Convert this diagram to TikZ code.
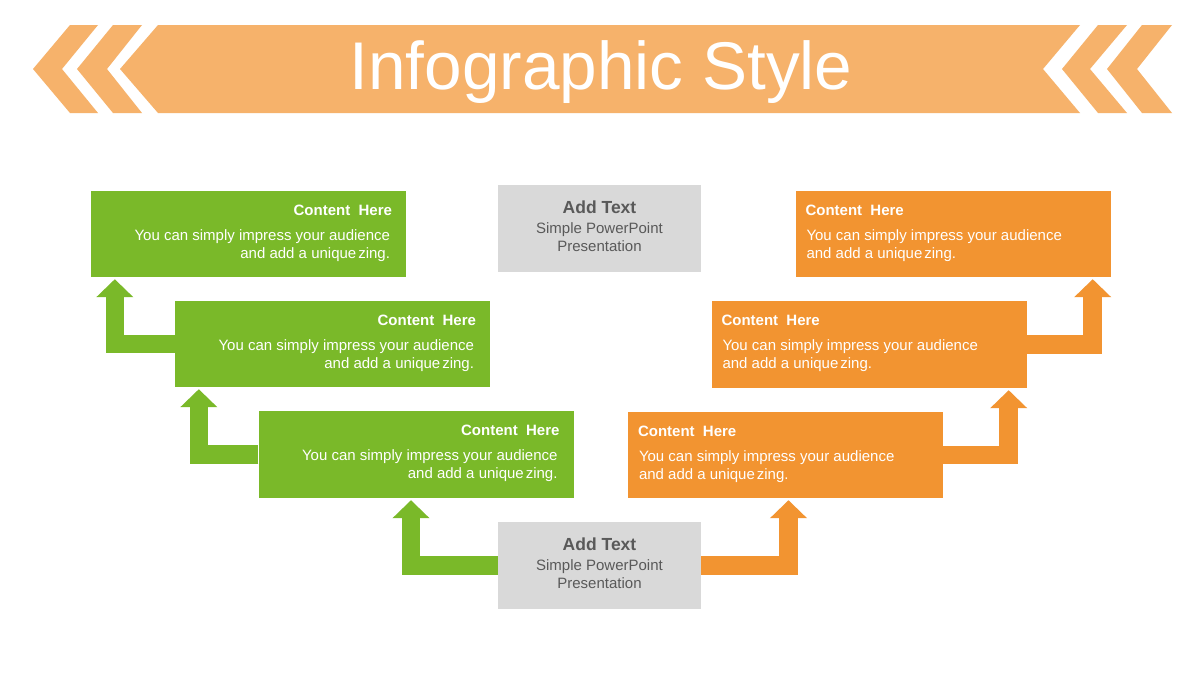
\documentclass[tikz,border=0pt]{standalone}
\usepackage{fontspec}
\setmainfont{Liberation Sans}
\usetikzlibrary{arrows.meta,calc}
\definecolor{grn}{HTML}{7AB929}
\definecolor{org}{HTML}{F29431}
\definecolor{hdr}{HTML}{F6B26B}
\definecolor{gry}{HTML}{D9D9D9}
\definecolor{gtxt}{HTML}{595959}
\tikzset{
  box/.style={inner sep=0pt, minimum width=315pt, minimum height=86pt},
  gbox/.style={box, fill=grn},
  obox/.style={box, fill=org},
  graybox/.style={inner sep=0pt, minimum width=203pt, minimum height=87pt, fill=gry},
  ttl/.style={inner sep=0pt, text=white, font=\fontsize{15}{18}\selectfont\bfseries},
  bdy/.style={inner sep=0pt, text=white, font=\fontsize{15}{18}\selectfont},
  garrow/.style={draw=grn, line width=18.5pt, line join=miter, -{Triangle[width=36pt,length=18pt]}},
  oarrow/.style={draw=org, line width=18.5pt, line join=miter, -{Triangle[width=36pt,length=18pt]}},
}
\begin{document}
\begin{tikzpicture}[x=1pt,y=-1pt]
\useasboundingbox (0,0) rectangle (1200,675);
\fill[white] (0,0) rectangle (1200,675);
% header banner
\fill[hdr] (70,25) -- (98,25) -- (62,69) -- (98,113) -- (70,113) -- (33,69) -- cycle;
\fill[hdr] (113,25) -- (142,25) -- (107,69) -- (142,113) -- (113,113) -- (77,69) -- cycle;
\fill[hdr] (158,25) -- (1080,25) -- (1043,69) -- (1080,113) -- (158,113) -- (120,69) -- cycle;
\fill[hdr] (1098,25) -- (1127,25) -- (1090,69) -- (1127,113) -- (1098,113) -- (1062,69) -- cycle;
\fill[hdr] (1142,25) -- (1172,25) -- (1137,69) -- (1172,113) -- (1142,113) -- (1107,69) -- cycle;
\node[anchor=base, inner sep=0pt, text=white, font=\fontsize{67.5}{70}\selectfont] (title) at (601,89.5) {Infographic Style};

% boxes
\node[gbox] (g1) at (248.5,234) {};
\node[gbox] (g2) at (332.5,344) {};
\node[gbox, minimum height=87pt] (g3) at (416,454.5) {};
\node[obox] (o1) at (953,234) {};
\node[obox, minimum height=87pt] (o2) at (869,344.5) {};
\node[obox] (o3) at (785.5,455) {};
\node[graybox] (a1) at (599.5,228.5) {};
\node[graybox] (a2) at (599.5,565.5) {};

% arrows
\draw[garrow] (g2.west) -| ($(g1.south west)+(24,2)$);
\draw[garrow] (g3.west) -| ($(g2.south west)+(24,2)$);
\draw[garrow] (a2.west) -| ($(g3.south)+(-5,2)$);
\draw[oarrow] (a2.east) -| ($(o3.south)+(3,2)$);
\draw[oarrow] (o3.east) -| ($(o2.south east)+(-18,2)$);
\draw[oarrow] (o2.east) -| ($(o1.south east)+(-18,2)$);

% green texts
\foreach \b in {g1,g2,g3}{
  \node[ttl, anchor=base east] (\b t) at ($(\b.north east)+(-14,24.5)$) {Content\ \ Here};
  \node[bdy, anchor=base east] (\b a) at ($(\b.north east)+(-16,50)$) {You can simply impress your audience};
  \node[bdy, anchor=base east] (\b b) at ($(\b.north east)+(-16,68)$) {and add a unique\kern2pt zing.};
}
% orange texts
\foreach \b in {o1,o2,o3}{
  \node[ttl, anchor=base west] (\b t) at ($(\b.north west)+(10,24.5)$) {Content\ \ Here};
  \node[bdy, anchor=base west] (\b a) at ($(\b.north west)+(11,50)$) {You can simply impress your audience};
  \node[bdy, anchor=base west] (\b b) at ($(\b.north west)+(11,68)$) {and add a unique\kern2pt zing.};
}
% gray texts
\foreach \b in {a1,a2}{
  \node[inner sep=0pt, anchor=base, text=gtxt, font=\fontsize{17.5}{20}\selectfont\bfseries] (\b t) at ($(\b.north)+(0,28.5)$) {Add Text};
  \node[inner sep=0pt, anchor=base, text=gtxt, font=\fontsize{15}{18}\selectfont] (\b a) at ($(\b.north)+(0,49)$) {Simple PowerPoint};
  \node[inner sep=0pt, anchor=base, text=gtxt, font=\fontsize{15}{18}\selectfont] (\b b) at ($(\b.north)+(0,67)$) {Presentation};
}
\end{tikzpicture}
\end{document}
